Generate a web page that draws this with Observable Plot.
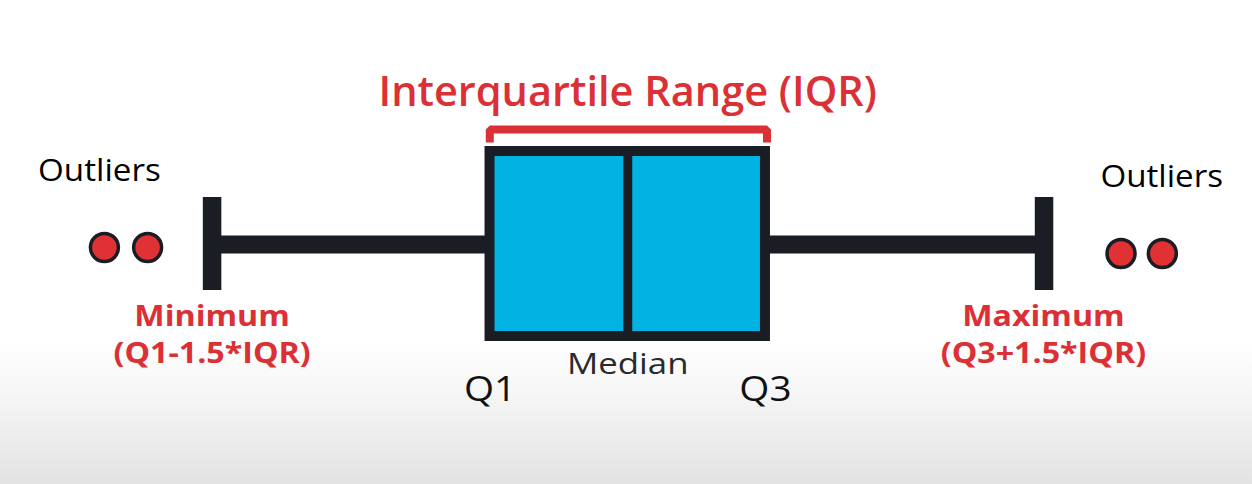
<!DOCTYPE html>
<html>
<head>
<meta charset="utf-8">
<script src="https://cdn.jsdelivr.net/npm/d3@7"></script>
<script src="https://cdn.jsdelivr.net/npm/@observablehq/plot@0.6"></script>
<style>
  html, body { margin: 0; padding: 0; background: #fff; }
  #chart svg { display: block; }
</style>
</head>
<body>
<div id="chart"></div>
<script>
// Box-plot summary values (on a 0–100 value axis)
const summary = { minimum: 16.9, q1: 39.1, median: 50.1, q3: 61.1, maximum: 83.3 };
const outliersLow = [8.3, 11.75];
const outliersHigh = [89.5, 92.8];

// Labels
const titleLabel = "Interquartile Range (IQR)";
const outlierLabel = "Outliers";
const minLabels = ["Minimum", "(Q1-1.5*IQR)"];
const maxLabels = ["Maximum", "(Q3+1.5*IQR)"];
const medianLabel = "Median";
const quartileLabels = ["Q1", "Q3"];

// Layout (vertical, in pixels) and styles
const W = 1252, H = 484;
const dark = "#1a1d24", red = "#db3036", blue = "#00b3e3";
const font = "Open Sans, sans-serif";
const yWhisker = 244, yCap1 = 197, yCap2 = 290;
const yBox1 = 151, yBox2 = 336;
const yBracket = 129, yBracketEnd = 142;

const bracket = [
  {x: summary.q1 - 0.02, y: yBracketEnd},
  {x: summary.q1 - 0.02, y: yBracket},
  {x: summary.q3 + 0.12, y: yBracket},
  {x: summary.q3 + 0.12, y: yBracketEnd}
];

const plot = Plot.plot({
  width: W, height: H,
  margin: 0,
  x: {domain: [0, 100], range: [0, W], axis: null},
  y: {domain: [0, H], range: [0, H], axis: null},
  style: {fontFamily: font, background: "linear-gradient(to bottom, #ffffff 0%, #ffffff 70%, #f7f7f7 80%, #e3e3e3 100%)"},
  marks: [
    // whisker line
    Plot.ruleY([yWhisker], {x1: summary.minimum, x2: summary.maximum, stroke: dark, strokeWidth: 18}),
    // whisker caps
    Plot.ruleX([summary.minimum, summary.maximum + 0.05], {y1: yCap1, y2: yCap2, stroke: dark, strokeWidth: 18.5}),
    // box
    Plot.rect([summary], {x1: "q1", x2: "q3", y1: yBox1, y2: yBox2, fill: blue, stroke: dark, strokeWidth: 10}),
    // median
    Plot.ruleX([summary.median], {y1: yBox1, y2: yBox2, stroke: dark, strokeWidth: 9}),
    // IQR bracket
    Plot.line(bracket, {x: "x", y: "y", stroke: red, strokeWidth: 8, strokeLinejoin: "miter", strokeLinecap: "butt"}),
    // outliers
    Plot.dot(outliersLow, {x: d => d, y: 247, r: 14, fill: "#e03135", stroke: dark, strokeWidth: 3.5}),
    Plot.dot(outliersHigh, {x: d => d, y: 253, r: 14, fill: "#e03135", stroke: dark, strokeWidth: 3.5}),
    // title
    Plot.text([titleLabel], {x: summary.median, y: 105, text: d => d, fill: red, fontSize: 41.5, fontWeight: 600, lineAnchor: "bottom", textAnchor: "middle"}),
    // outlier labels
    Plot.text([outlierLabel], {x: 7.9, y: 180, text: d => d, fill: "#000", fontSize: 31, lineAnchor: "bottom", textAnchor: "middle"}),
    Plot.text([outlierLabel], {x: 92.75, y: 186, text: d => d, fill: "#000", fontSize: 31, lineAnchor: "bottom", textAnchor: "middle"}),
    // min / max labels
    Plot.text(minLabels, {x: summary.minimum, y: (d, i) => [325, 362][i], text: d => d, fill: red, fontSize: 28.5, fontWeight: 700, lineAnchor: "bottom", textAnchor: "middle"}),
    Plot.text(maxLabels, {x: summary.maximum, y: (d, i) => [325, 362][i], text: d => d, fill: red, fontSize: 28.5, fontWeight: 700, lineAnchor: "bottom", textAnchor: "middle"}),
    // median label
    Plot.text([medianLabel], {x: summary.median, y: 373, text: d => d, fill: "#2a2a2a", fontSize: 30, lineAnchor: "bottom", textAnchor: "middle"}),
    // quartile labels
    Plot.text(quartileLabels, {x: (d, i) => [summary.q1, summary.q3][i], y: 400, text: d => d, fill: "#111", fontSize: 35.5, lineAnchor: "bottom", textAnchor: "middle"})
  ]
});

// horizontal stretch of the label glyphs, per text mark in order
const stretch = [1.0, 1.07, 1.07, 1.13, 1.13, 1.16, 1.09];
d3.select(plot).selectAll("g[aria-label='text']").each(function(_, gi) {
  const k = stretch[gi] ?? 1;
  d3.select(this).selectAll("text").each(function() {
    const t = d3.select(this);
    const tr = t.attr("transform") || "";
    t.attr("transform", tr + ` scale(${k},1)`);
  });
});

document.getElementById("chart").appendChild(plot);
</script>
</body>
</html>
